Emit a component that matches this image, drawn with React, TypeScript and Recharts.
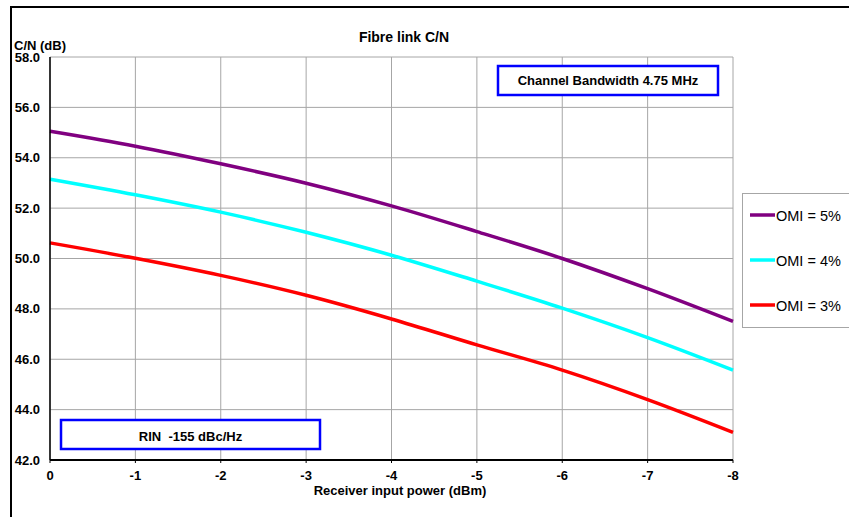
import React from "react";
import { LineChart, Line, XAxis, YAxis, CartesianGrid } from "recharts";

// receiver input power (dBm)
const power = [0, -1, -2, -3, -4, -5, -6, -7, -8];
// C/N (dB) per OMI
const omi5 = [55.05, 54.46, 53.76, 52.99, 52.09, 51.07, 50.0, 48.8, 47.5];
const omi4 = [53.15, 52.53, 51.84, 51.04, 50.13, 49.1, 48.03, 46.86, 45.57];
const omi3 = [50.62, 50.01, 49.33, 48.54, 47.6, 46.57, 45.57, 44.4, 43.1];

const yTicks = [42, 44, 46, 48, 50, 52, 54, 56, 58];
const xTicks = [0, -1, -2, -3, -4, -5, -6, -7, -8];

const series = [
  { key: "omi5", name: "OMI = 5%", color: "#800080" },
  { key: "omi4", name: "OMI = 4%", color: "#00FFFF" },
  { key: "omi3", name: "OMI = 3%", color: "#FF0000" }
];

const data = power.map((x, i) => ({ x, omi5: omi5[i], omi4: omi4[i], omi3: omi3[i] }));

const FONT = "'Liberation Sans', Arial, sans-serif";
const tickStyle = { fill: "#000", fontSize: 13, fontWeight: 700, fontFamily: FONT };

export default function App() {
  return (
    <div
      style={{
        position: "absolute",
        left: 0,
        top: 0,
        width: 849,
        height: 517,
        overflow: "hidden",
        background: "#fff",
        fontFamily: FONT
      }}
    >
      <div style={{ position: "absolute", left: 0, top: 0 }}>
        <LineChart width={849} height={517} data={data} margin={{ top: 57, right: 116, bottom: 27, left: 10 }}>
          <CartesianGrid stroke="#a6a6a6" strokeWidth={1} />
          <XAxis
            type="number"
            dataKey="x"
            domain={[-8, 0]}
            reversed
            ticks={xTicks}
            interval={0}
            height={30}
            tickSize={3}
            tickMargin={8}
            tick={tickStyle}
            axisLine={{ stroke: "#000", strokeWidth: 2 }}
            tickLine={{ stroke: "#000" }}
          />
          <YAxis
            type="number"
            domain={[42, 58]}
            ticks={yTicks}
            interval={0}
            width={40}
            tickSize={0}
            tickMargin={10}
            tick={tickStyle}
            tickFormatter={(v: number) => v.toFixed(1)}
            axisLine={{ stroke: "#000", strokeWidth: 1.5 }}
            tickLine={false}
          />
          {series.map((s) => (
            <Line
              key={s.key}
              type="monotone"
              dataKey={s.key}
              name={s.name}
              stroke={s.color}
              strokeWidth={3.5}
              dot={false}
              isAnimationActive={false}
            />
          ))}
        </LineChart>
      </div>
      <svg
        width={849}
        height={517}
        style={{ position: "absolute", left: 0, top: 0, pointerEvents: "none" }}
        fontFamily={FONT}
      >
        {/* outer frame, only top and left edges are inside the picture */}
        <path d="M11,517 L11,7 L849,7" fill="none" stroke="#000" strokeWidth={2} />

        <text x={404} y={42} textAnchor="middle" fontSize={14} fontWeight={700}>
          Fibre link C/N
        </text>
        <text x={14} y={50} fontSize={13} fontWeight={700}>
          C/N (dB)
        </text>
        <text x={400} y={495} textAnchor="middle" fontSize={13} fontWeight={700}>
          Receiver input power (dBm)
        </text>

        <rect x={498} y={66} width={220} height={29} fill="#fff" stroke="#0000FF" strokeWidth={2.5} />
        <text x={608} y={85} textAnchor="middle" fontSize={13} fontWeight={700}>
          Channel Bandwidth 4.75 MHz
        </text>

        <rect x={61} y={420} width={259} height={29} fill="#fff" stroke="#0000FF" strokeWidth={2.5} />
        <text x={190.5} y={440.5} textAnchor="middle" fontSize={13} fontWeight={700} style={{ whiteSpace: "pre" }}>
          {"RIN  -155 dBc/Hz"}
        </text>

        <rect x={742.5} y={193.5} width={200} height={134} fill="#fff" stroke="#a6a6a6" strokeWidth={1} />
        {series.map((s, i) => (
          <g key={s.key}>
            <line x1={750} x2={775} y1={215 + i * 45} y2={215 + i * 45} stroke={s.color} strokeWidth={3.5} />
            <text x={776} y={220.5 + i * 45} fontSize={14.5}>
              {s.name}
            </text>
          </g>
        ))}
      </svg>
    </div>
  );
}
